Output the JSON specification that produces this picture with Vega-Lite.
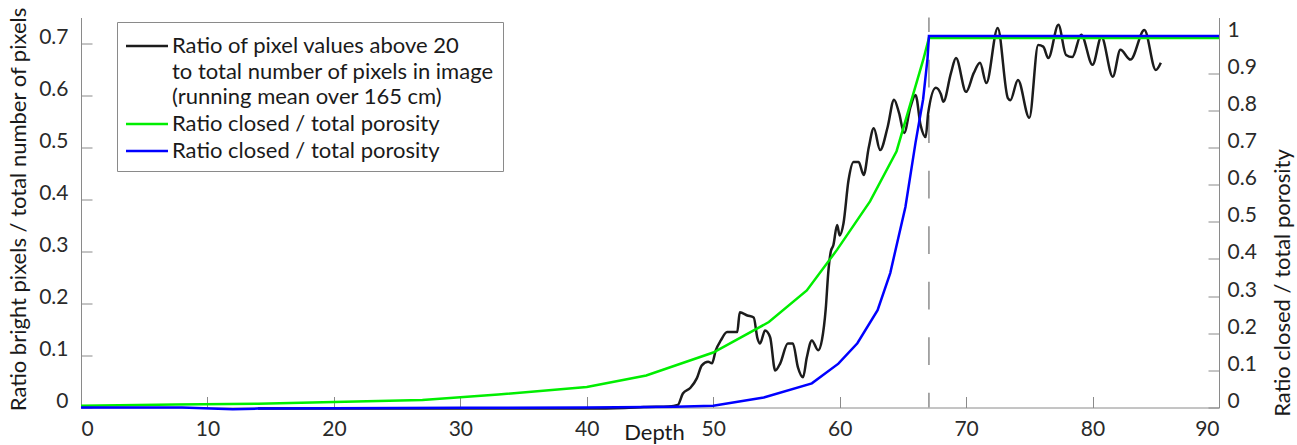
{
  "$schema": "https://vega.github.io/schema/vega-lite/v6.json",
  "width": 1138,
  "height": 390,
  "autosize": {"type": "none"},
  "padding": {"left": 81, "top": 17.5, "right": 78, "bottom": 37.5},
  "background": "white",
  "config": {
    "font": "Lato",
    "view": {"stroke": null},
    "axis": {
      "grid": false,
      "domainColor": "#8a8a8a",
      "tickColor": "#8a8a8a",
      "labelColor": "#2a2a2a",
      "titleColor": "#1a1a1a",
      "labelFontSize": 21,
      "titleFontSize": 22,
      "titleFontWeight": "normal",
      "tickSize": -11,
      "domainWidth": 1,
      "tickWidth": 1
    }
  },
  "datasets": {
    "bright": [
      {"depth": 14, "ratio": -0.002, "series": "bright"},
      {"depth": 20, "ratio": -0.002, "series": "bright"},
      {"depth": 30, "ratio": -0.002, "series": "bright"},
      {"depth": 40, "ratio": -0.002, "series": "bright"},
      {"depth": 43, "ratio": -0.001, "series": "bright"},
      {"depth": 44.5, "ratio": 0.001, "series": "bright"},
      {"depth": 46.5, "ratio": 0.002, "series": "bright"},
      {"depth": 47.2, "ratio": 0.005, "series": "bright"},
      {"depth": 47.6, "ratio": 0.027, "series": "bright"},
      {"depth": 48.2, "ratio": 0.038, "series": "bright"},
      {"depth": 48.7, "ratio": 0.056, "series": "bright"},
      {"depth": 49.1, "ratio": 0.081, "series": "bright"},
      {"depth": 49.6, "ratio": 0.088, "series": "bright"},
      {"depth": 49.9, "ratio": 0.085, "series": "bright"},
      {"depth": 50.2, "ratio": 0.11, "series": "bright"},
      {"depth": 50.6, "ratio": 0.129, "series": "bright"},
      {"depth": 51.1, "ratio": 0.145, "series": "bright"},
      {"depth": 51.9, "ratio": 0.145, "series": "bright"},
      {"depth": 52.1, "ratio": 0.183, "series": "bright"},
      {"depth": 52.7, "ratio": 0.177, "series": "bright"},
      {"depth": 53.2, "ratio": 0.173, "series": "bright"},
      {"depth": 53.5, "ratio": 0.133, "series": "bright"},
      {"depth": 53.7, "ratio": 0.123, "series": "bright"},
      {"depth": 54.1, "ratio": 0.148, "series": "bright"},
      {"depth": 54.5, "ratio": 0.135, "series": "bright"},
      {"depth": 54.9, "ratio": 0.071, "series": "bright"},
      {"depth": 55.3, "ratio": 0.085, "series": "bright"},
      {"depth": 55.9, "ratio": 0.123, "series": "bright"},
      {"depth": 56.3, "ratio": 0.123, "series": "bright"},
      {"depth": 56.7, "ratio": 0.077, "series": "bright"},
      {"depth": 57.1, "ratio": 0.058, "series": "bright"},
      {"depth": 57.4, "ratio": 0.096, "series": "bright"},
      {"depth": 57.8, "ratio": 0.129, "series": "bright"},
      {"depth": 58.3, "ratio": 0.11, "series": "bright"},
      {"depth": 58.6, "ratio": 0.13, "series": "bright"},
      {"depth": 58.9, "ratio": 0.19, "series": "bright"},
      {"depth": 59.1, "ratio": 0.26, "series": "bright"},
      {"depth": 59.3, "ratio": 0.3, "series": "bright"},
      {"depth": 59.5, "ratio": 0.312, "series": "bright"},
      {"depth": 59.8, "ratio": 0.351, "series": "bright"},
      {"depth": 60.0, "ratio": 0.331, "series": "bright"},
      {"depth": 60.3, "ratio": 0.354, "series": "bright"},
      {"depth": 60.7, "ratio": 0.437, "series": "bright"},
      {"depth": 61.1, "ratio": 0.472, "series": "bright"},
      {"depth": 61.5, "ratio": 0.472, "series": "bright"},
      {"depth": 61.9, "ratio": 0.447, "series": "bright"},
      {"depth": 62.3, "ratio": 0.5, "series": "bright"},
      {"depth": 62.7, "ratio": 0.537, "series": "bright"},
      {"depth": 63.2, "ratio": 0.495, "series": "bright"},
      {"depth": 63.8, "ratio": 0.54, "series": "bright"},
      {"depth": 64.3, "ratio": 0.592, "series": "bright"},
      {"depth": 64.7, "ratio": 0.566, "series": "bright"},
      {"depth": 65.1, "ratio": 0.528, "series": "bright"},
      {"depth": 65.6, "ratio": 0.578, "series": "bright"},
      {"depth": 66.0, "ratio": 0.601, "series": "bright"},
      {"depth": 66.4, "ratio": 0.543, "series": "bright"},
      {"depth": 66.8, "ratio": 0.52, "series": "bright"},
      {"depth": 67.0, "ratio": 0.566, "series": "bright"},
      {"depth": 67.6, "ratio": 0.615, "series": "bright"},
      {"depth": 68.0, "ratio": 0.603, "series": "bright"},
      {"depth": 68.2, "ratio": 0.588, "series": "bright"},
      {"depth": 68.8, "ratio": 0.643, "series": "bright"},
      {"depth": 69.2, "ratio": 0.672, "series": "bright"},
      {"depth": 70.0, "ratio": 0.607, "series": "bright"},
      {"depth": 70.6, "ratio": 0.643, "series": "bright"},
      {"depth": 71.1, "ratio": 0.663, "series": "bright"},
      {"depth": 71.6, "ratio": 0.624, "series": "bright"},
      {"depth": 72.5, "ratio": 0.73, "series": "bright"},
      {"depth": 73.3, "ratio": 0.595, "series": "bright"},
      {"depth": 73.5, "ratio": 0.591, "series": "bright"},
      {"depth": 74.1, "ratio": 0.63, "series": "bright"},
      {"depth": 75.0, "ratio": 0.557, "series": "bright"},
      {"depth": 75.7, "ratio": 0.697, "series": "bright"},
      {"depth": 76.1, "ratio": 0.694, "series": "bright"},
      {"depth": 76.5, "ratio": 0.672, "series": "bright"},
      {"depth": 77.3, "ratio": 0.736, "series": "bright"},
      {"depth": 77.9, "ratio": 0.678, "series": "bright"},
      {"depth": 78.4, "ratio": 0.674, "series": "bright"},
      {"depth": 79.1, "ratio": 0.717, "series": "bright"},
      {"depth": 80.0, "ratio": 0.659, "series": "bright"},
      {"depth": 80.7, "ratio": 0.713, "series": "bright"},
      {"depth": 81.6, "ratio": 0.636, "series": "bright"},
      {"depth": 82.2, "ratio": 0.688, "series": "bright"},
      {"depth": 83.0, "ratio": 0.669, "series": "bright"},
      {"depth": 84.1, "ratio": 0.726, "series": "bright"},
      {"depth": 85.0, "ratio": 0.649, "series": "bright"},
      {"depth": 85.4, "ratio": 0.663, "series": "bright"}
    ],
    "porosity": [
      {"depth": 0, "ratio": 0.005, "series": "closed_green"},
      {"depth": 7.5, "ratio": 0.008, "series": "closed_green"},
      {"depth": 14, "ratio": 0.01, "series": "closed_green"},
      {"depth": 20, "ratio": 0.015, "series": "closed_green"},
      {"depth": 27, "ratio": 0.02, "series": "closed_green"},
      {"depth": 33, "ratio": 0.035, "series": "closed_green"},
      {"depth": 40, "ratio": 0.055, "series": "closed_green"},
      {"depth": 44.7, "ratio": 0.086, "series": "closed_green"},
      {"depth": 50, "ratio": 0.148, "series": "closed_green"},
      {"depth": 54.4, "ratio": 0.23, "series": "closed_green"},
      {"depth": 57.4, "ratio": 0.315, "series": "closed_green"},
      {"depth": 59.8, "ratio": 0.425, "series": "closed_green"},
      {"depth": 62.4, "ratio": 0.555, "series": "closed_green"},
      {"depth": 64.5, "ratio": 0.69, "series": "closed_green"},
      {"depth": 66.6, "ratio": 0.935, "series": "closed_green"},
      {"depth": 67.06, "ratio": 0.995, "series": "closed_green"},
      {"depth": 90, "ratio": 0.995, "series": "closed_green"},
      {"depth": 0, "ratio": 0.0, "series": "closed_blue"},
      {"depth": 8, "ratio": 0.0, "series": "closed_blue"},
      {"depth": 12, "ratio": -0.005, "series": "closed_blue"},
      {"depth": 14, "ratio": -0.003, "series": "closed_blue"},
      {"depth": 20, "ratio": -0.002, "series": "closed_blue"},
      {"depth": 30, "ratio": -0.001, "series": "closed_blue"},
      {"depth": 40, "ratio": 0.0, "series": "closed_blue"},
      {"depth": 47, "ratio": 0.002, "series": "closed_blue"},
      {"depth": 50, "ratio": 0.005, "series": "closed_blue"},
      {"depth": 54, "ratio": 0.027, "series": "closed_blue"},
      {"depth": 57.8, "ratio": 0.065, "series": "closed_blue"},
      {"depth": 59.9, "ratio": 0.118, "series": "closed_blue"},
      {"depth": 61.4, "ratio": 0.173, "series": "closed_blue"},
      {"depth": 63.0, "ratio": 0.262, "series": "closed_blue"},
      {"depth": 64.0, "ratio": 0.362, "series": "closed_blue"},
      {"depth": 65.2, "ratio": 0.54, "series": "closed_blue"},
      {"depth": 66.0, "ratio": 0.713, "series": "closed_blue"},
      {"depth": 66.6, "ratio": 0.83, "series": "closed_blue"},
      {"depth": 66.95, "ratio": 0.94, "series": "closed_blue"},
      {"depth": 67.06, "ratio": 1.0, "series": "closed_blue"},
      {"depth": 90, "ratio": 1.0, "series": "closed_blue"}
    ]
  },
  "layer": [
    {
      "data": {"values": [{"depth": 67.06}]},
      "mark": {"type": "rule", "color": "#8c8c8c", "strokeWidth": 1.5, "strokeDash": [27.7, 27.8], "strokeDashOffset": 13.3},
      "encoding": {
        "x": {"field": "depth", "type": "quantitative"}
      }
    },
    {
      "data": {"name": "bright"},
      "mark": {"type": "line", "interpolate": "monotone", "strokeWidth": 2.5},
      "encoding": {
        "x": {
          "field": "depth",
          "type": "quantitative",
          "scale": {"domain": [0, 90], "nice": false, "zero": false},
          "axis": {
            "values": [0, 10, 20, 30, 40, 50, 60, 70, 80, 90],
            "format": "d",
            "labelPadding": 22,
            "title": "Depth",
            "titleX": 573,
            "titleY": 32,
            "titleBaseline": "alphabetic"
          }
        },
        "y": {
          "field": "ratio",
          "type": "quantitative",
          "scale": {"domain": [0, 0.75], "nice": false},
          "axis": {
            "orient": "left",
            "values": [0, 0.1, 0.2, 0.3, 0.4, 0.5, 0.6, 0.7],
            "format": ".1~f",
            "labelBaseline": "alphabetic",
            "labelPadding": 24,
            "title": "Ratio bright pixels / total number of pixels",
            "titleAngle": -90,
            "titleX": -56,
            "titleY": 191.5,
            "titleAlign": "center",
            "titleBaseline": "alphabetic"
          }
        },
        "color": {
          "field": "series",
          "type": "nominal",
          "scale": {
            "domain": ["bright", "closed_green", "closed_blue"],
            "range": ["#1c1c1c", "#00ee00", "#0000ff"]
          },
          "legend": {
            "orient": "none",
            "legendX": 36,
            "legendY": 4.5,
            "title": null,
            "symbolType": "M-1.527,0H1.527",
            "symbolSize": 756.25,
            "symbolStrokeWidth": 2.5,
            "symbolOffset": 6,
            "labelFontSize": 22,
            "labelColor": "#1a1a1a",
            "labelLimit": 0,
            "labelOffset": 10,
            "fillColor": "white",
            "strokeColor": "#8a8a8a",
            "padding": 9,
            "rowPadding": 1,
            "labelExpr": "datum.value == 'bright' ? ['Ratio of pixel values above 20', 'to total number of pixels in image', '(running mean over 165 cm)'] : 'Ratio closed / total porosity'",
            "encode": {"labels": {"update": {"lineHeight": {"value": 25.5}}}}
          }
        }
      }
    },
    {
      "data": {"name": "porosity"},
      "mark": {"type": "line", "strokeWidth": 2.5},
      "encoding": {
        "x": {"field": "depth", "type": "quantitative"},
        "y": {
          "field": "ratio",
          "type": "quantitative",
          "scale": {"domain": [0, 1.05], "nice": false},
          "axis": {
            "orient": "right",
            "values": [0, 0.1, 0.2, 0.3, 0.4, 0.5, 0.6, 0.7, 0.8, 0.9, 1],
            "format": ".1~f",
            "labelBaseline": "alphabetic",
            "labelPadding": 19,
            "title": "Ratio closed / total porosity",
            "titleAngle": -90,
            "titleX": 70,
            "titleY": 265,
            "titleAlign": "center",
            "titleBaseline": "alphabetic"
          }
        },
        "color": {"field": "series", "type": "nominal"}
      }
    }
  ],
  "resolve": {"scale": {"y": "independent"}}
}
